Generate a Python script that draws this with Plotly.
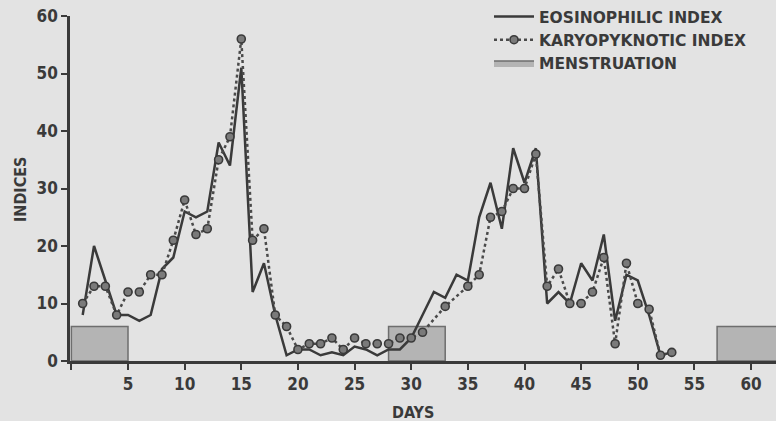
import plotly.graph_objects as go

# ---- data ----
eos_days = list(range(1, 54))
eos_values = [8, 20, 14, 8, 8, 7, 8, 16, 18, 26,
              25, 26, 38, 34, 51, 12, 17, 8, 1, 2,
              2, 1, 1.5, 1, 2.5, 2, 1, 2, 2, 4,
              8, 12, 11, 15, 14, 25, 31, 23, 37, 31,
              37, 10, 12, 10, 17, 14, 22, 7, 15, 14,
              8, 1, 1.5]

kar_days = list(range(1, 32)) + [33, 35] + list(range(36, 54))
kar_values = [10, 13, 13, 8, 12, 12, 15, 15, 21, 28,
              22, 23, 35, 39, 56, 21, 23, 8, 6, 2,
              3, 3, 4, 2, 4, 3, 3, 3, 4, 4,
              5, 9.5, 13, 15, 25, 26, 30, 30, 36, 13,
              16, 10, 10, 12, 18, 3, 17, 10, 9, 1,
              1.5]

menstruation = [(0, 5), (28, 33), (57, 63)]
menstruation_level = 6

x_ticks = list(range(0, 61, 5))
x_ticklabels = [""] + [str(v) for v in range(5, 61, 5)]
y_ticks = list(range(0, 61, 10))

# ---- styling ----
BG = "#e3e3e3"
INK = "#3a3a3a"
FONT = "DejaVu Sans Condensed, Liberation Sans Narrow, Arial Narrow, sans-serif"
LEG_FONT = "DejaVu Sans, Liberation Sans, sans-serif"
W, H = 776, 421
ML, MR, MT, MB = 70, 0, 16, 60

box_x, box_y = [], []
for a, b in menstruation:
    box_x += [a, a, b, b, a, None]
    box_y += [0, menstruation_level, menstruation_level, 0, 0, None]

fig = go.Figure()
fig.add_trace(go.Scatter(
    x=box_x, y=box_y, mode="lines", fill="toself", name="MENSTRUATION",
    fillcolor="#b4b4b4", line=dict(color="#6e6e6e", width=1.5), legendrank=3))
fig.add_trace(go.Scatter(
    x=eos_days, y=eos_values, mode="lines", name="EOSINOPHILIC INDEX",
    line=dict(color=INK, width=2.5), legendrank=1))
fig.add_trace(go.Scatter(
    x=kar_days, y=kar_values, mode="lines+markers", name="KARYOPYKNOTIC INDEX",
    line=dict(color="#4a4a4a", width=2.5, dash="dot"),
    marker=dict(size=8, color="#7a7a7a", line=dict(color="#3a3a3a", width=1.6)),
    legendrank=2))

pw, ph = W - ML - MR, H - MT - MB


def px_to_paper(x, y):
    return (x - ML) / pw, (H - MB - y) / ph


days_x, days_y = px_to_paper(413, 412)
ind_x, ind_y = px_to_paper(20, 190)
leg_x, leg_y = px_to_paper(489, 0)

fig.update_layout(
    width=W, height=H,
    margin=dict(l=ML, r=MR, t=MT, b=MB),
    paper_bgcolor=BG, plot_bgcolor=BG,
    font=dict(family=FONT, size=16, color=INK, weight="bold"),
    showlegend=True,
    legend=dict(x=leg_x, y=leg_y, xanchor="left", yanchor="top",
                bgcolor="rgba(0,0,0,0)", tracegroupgap=0,
                font=dict(family=LEG_FONT, size=15.5, color=INK, weight="bold"),
                itemwidth=40, traceorder="normal"),
    xaxis=dict(range=[-0.12, 62.2], tickmode="array", tickvals=x_ticks,
               ticktext=x_ticklabels, ticks="outside", ticklen=6, tickwidth=2,
               tickcolor=INK, showline=True, linecolor=INK, linewidth=2.5,
               showgrid=False, zeroline=False,
               tickfont=dict(family=FONT, size=17, color=INK, weight="bold")),
    yaxis=dict(range=[0, 60], tickmode="array", tickvals=y_ticks,
               ticks="outside", ticklen=6, tickwidth=2, tickcolor=INK,
               showline=True, linecolor=INK, linewidth=2.5,
               showgrid=False, zeroline=False,
               tickfont=dict(family=FONT, size=17, color=INK, weight="bold")),
    annotations=[
        dict(text="DAYS", x=days_x, y=days_y, xref="paper", yref="paper",
             xanchor="center", yanchor="middle", showarrow=False,
             font=dict(family=FONT, size=16, color=INK, weight="bold")),
        dict(text="INDICES", x=ind_x, y=ind_y, xref="paper", yref="paper",
             xanchor="center", yanchor="middle", showarrow=False, textangle=-90,
             font=dict(family=FONT, size=16, color=INK, weight="bold")),
    ],
)

fig.write_html("out.html",
               config={"displayModeBar": False},
               post_script="document.body.style.margin='0';"
                           "document.body.style.background='" + BG + "';")
